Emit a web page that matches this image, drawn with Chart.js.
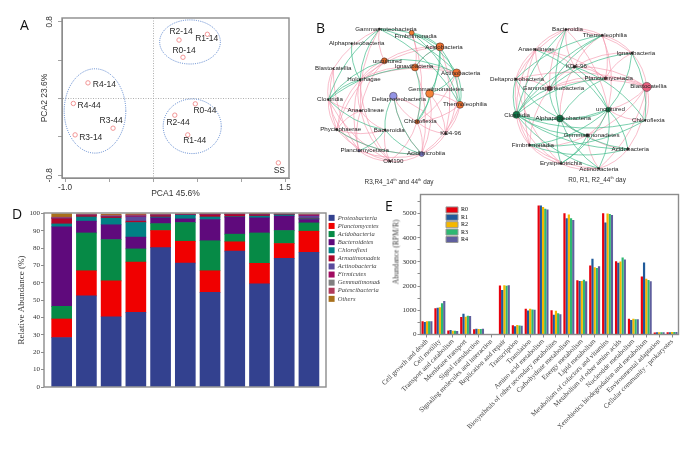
<!DOCTYPE html>
<html>
<head>
<meta charset="utf-8">
<script src="https://cdn.jsdelivr.net/npm/chart.js@4"></script>
<style>
  html, body { margin: 0; padding: 0; background: #fff; }
  #page { position: relative; width: 693px; height: 452px; overflow: hidden; }
  canvas { position: absolute; left: 0; top: 0; filter: blur(0.35px); }
  .note { position: absolute; white-space: nowrap; font-family: "Liberation Sans", sans-serif; color: #222; filter: blur(0.25px); }
  .letter { font-family: "Open Sans", sans-serif; font-size: 14px; line-height: 14px; color: #111; }
  .caption { font-size: 6.4px; line-height: 8px; color: #333; transform: translateX(-50%); }
  .caption sup { font-size: 4px; line-height: 0; }
</style>
</head>
<body>
<div id="page">
  <canvas id="pca" width="693" height="452"></canvas>
  <canvas id="netB" width="693" height="452"></canvas>
  <canvas id="netC" width="693" height="452"></canvas>
  <canvas id="stack" width="380" height="452"></canvas>
  <canvas id="kegg" width="693" height="452"></canvas>
  <div class="note letter" style="left:20px;top:18px">A</div>
  <div class="note letter" style="left:316px;top:21px">B</div>
  <div class="note letter" style="left:500px;top:21px">C</div>
  <div class="note letter" style="left:12px;top:207px">D</div>
  <div class="note letter" style="left:385px;top:199px">E</div>
  <div class="note caption" style="left:399px;top:178px">R3,R4_14<sup>th</sup> and 44<sup>th</sup> day</div>
  <div class="note caption" style="left:597px;top:176px">R0, R1, R2_44<sup>th</sup> day</div>
  <div class="note" style="left:396px;top:252px;font:7.6px 'Liberation Serif',serif;color:#444;transform:translate(-50%,-50%) rotate(-90deg)">Abundance (RPM/R)</div>
</div>
<script>
// panel A
const pcaNames = ['R2-14', 'R1-14', 'R0-14', 'R4-14', 'R4-44', 'R3-44', 'R3-14', 'R0-44', 'R2-44', 'R1-44', 'SS'];
const pcaX = [0.295, 0.617, 0.34, -0.74, -0.906, -0.455, -0.886, 0.48, 0.247, 0.394, 1.424];
const pcaY = [0.61, 0.67, 0.43, 0.163, -0.052, -0.31, -0.38, -0.056, -0.174, -0.38, -0.672];
const pcaLabelX = [0.318, 0.61, 0.352, -0.553, -0.727, -0.477, -0.708, 0.59, 0.284, 0.474, 1.435];
const pcaLabelY = [0.695, 0.62, 0.497, 0.142, -0.07, -0.234, -0.404, -0.125, -0.255, -0.443, -0.752];
const pcaEllipses = [[0.42, 0.59, 0.345, 0.23], [-0.66, -0.13, 0.35, 0.44], [0.445, -0.29, 0.33, 0.285]];
const pcaXTicks = [-1, -0.5, 0, 0.5, 1, 1.5];
const pcaYTicks = [-0.8, -0.4, 0, 0.4, 0.8];

// panel B
const nodeNamesB = ['Gammaproteobacteria', 'Fimbriimonadia', 'Alphaproteobacteria', 'Acidobacteria', 'uncultured', 'Ignavibacteria', 'Actinobacteria', 'Blastocatellia', 'Holophagae', 'Deltaproteobacteria', 'Gemmatimonadetes', 'Thermoleophilia', 'Clostridia', 'Anaerolineae', 'Chloroflexia', 'KD4-96', 'Phycisphaerae', 'Bacteroidia', 'Planctomycetacia', 'OM190', 'Acidimicrobiia'];
const nodeXB = [238, 335, 155, 420, 253, 345, 470, 100, 180, 280, 389, 480, 85, 182, 351, 437, 110, 255, 177, 270, 365];
const nodeYB = [75, 87, 120, 130, 173, 193, 210, 197, 231, 281, 273, 308, 292, 326, 360, 396, 384, 385, 449, 481, 459];
const nodeLabelXB = [258, 347, 170, 432, 262, 342, 482, 100, 192, 297, 408, 495, 90, 197, 361, 452, 122, 268, 194, 280, 378];
const nodeLabelYB = [75, 98, 120, 130, 173, 190, 211, 197, 231, 291, 260, 307, 292, 326, 358, 396, 384, 385, 448, 481, 458];
const nodeSizeB = [1, 2.5, 0.8, 4, 3, 3.5, 4, 0.6, 1, 3.8, 4, 3.5, 0.8, 1, 2.2, 1.2, 1.2, 1, 1.2, 1, 2.5];
const nodeColorB = ['#222', '#f07c30', '#222', '#ee7030', '#d86428', '#ee7030', '#ee7030', '#222', '#222', '#9494e4', '#f58238', '#ee7030', '#222', '#222', '#c05a20', '#222', '#222', '#222', '#6666aa', '#222', '#7a7ac8'];
const greenEdgesB = [[0, 3], [0, 6], [0, 11], [1, 3], [1, 6], [1, 11], [3, 11], [3, 14], [3, 10], [5, 14], [6, 10], [6, 11], [10, 14], [2, 8], [0, 8], [0, 12], [4, 12], [5, 12], [8, 12], [12, 17], [16, 20], [9, 17], [9, 20], [17, 20], [18, 17], [5, 3], [4, 6]];
const pinkEdgesB = [[0, 4], [0, 13], [0, 7], [1, 5], [1, 14], [3, 4], [3, 5], [3, 8], [3, 15], [5, 6], [5, 8], [4, 8], [4, 13], [4, 16], [6, 8], [6, 14], [6, 15], [7, 12], [7, 16], [7, 18], [8, 13], [8, 16], [8, 18], [8, 19], [10, 11], [10, 15], [11, 15], [11, 14], [9, 14], [9, 15], [9, 20], [12, 16], [12, 13], [12, 18], [12, 19], [13, 16], [13, 18], [13, 19], [14, 15], [14, 20], [14, 19], [15, 20], [16, 17], [16, 19], [16, 20], [17, 19], [18, 19], [18, 20], [19, 20], [13, 17], [11, 20], [10, 20], [5, 20]];

// panel C
const nodeNamesC = ['Bacteroidia', 'Thermoleophilia', 'Anaerolineae', 'Ignavibacteria', 'KD4-96', 'Deltaproteobacteria', 'Planctomycetacia', 'Gammaproteobacteria', 'Blastocatellia', 'Clostridia', 'uncultured', 'Alphaproteobacteria', 'Chloroflexia', 'Gemmatimonadetes', 'Fimbriimonadia', 'Acidobacteria', 'Erysipelotrichia', 'Actinobacteria'];
const nodeXC = [230, 340, 137, 430, 256, 78, 350, 180, 475, 80, 358, 212, 470, 295, 120, 418, 215, 330];
const nodeYC = [75, 93, 137, 148, 190, 228, 225, 257, 252, 338, 322, 349, 355, 401, 431, 443, 488, 503];
const nodeLabelXC = [235, 348, 141, 442, 262, 82, 360, 192, 480, 82, 365, 222, 480, 308, 130, 425, 215, 330];
const nodeLabelYC = [75, 93, 137, 148, 190, 228, 224, 256, 251, 338, 322, 348, 355, 400, 431, 443, 488, 504];
const nodeSizeC = [1, 1, 1, 1.2, 1.5, 1, 1.5, 2.5, 4.5, 3.5, 2.5, 3.5, 0.8, 1.5, 1, 1.2, 1, 1];
const nodeColorC = ['#222', '#222', '#222', '#222', '#222', '#222', '#7a2a3a', '#7a3a4a', '#e86080', '#0f7a4a', '#0f7a4a', '#0f7a4a', '#222', '#222', '#222', '#222', '#222', '#222'];
const greenEdgesC = [[0, 9], [0, 11], [1, 7], [1, 9], [1, 5], [2, 10], [3, 7], [3, 12], [3, 10], [4, 9], [4, 10], [4, 12], [5, 9], [5, 11], [6, 9], [6, 11], [7, 9], [7, 11], [9, 11], [9, 10], [9, 13], [9, 17], [9, 15], [10, 11], [10, 14], [10, 15], [11, 13], [11, 17], [11, 15], [12, 14], [12, 9], [13, 16], [14, 15], [16, 11], [10, 17], [10, 16]];
const pinkEdgesC = [[0, 1], [0, 2], [0, 3], [0, 4], [0, 5], [0, 7], [1, 4], [1, 3], [1, 6], [2, 4], [2, 5], [2, 6], [2, 7], [2, 9], [3, 6], [3, 8], [3, 4], [4, 6], [4, 7], [4, 8], [5, 7], [5, 8], [5, 14], [5, 16], [6, 8], [6, 7], [7, 8], [8, 12], [8, 10], [8, 15], [8, 17], [8, 13], [10, 12], [10, 13], [9, 14], [9, 16], [11, 13], [13, 15], [13, 17], [14, 16], [14, 17], [14, 13], [15, 17], [16, 17], [2, 14], [7, 14], [0, 10], [1, 10], [4, 11]];

// panel D
const samples = ['SS', 'R0-14', 'R1-14', 'R2-14', 'R3-14', 'R4-14', 'R0-44', 'R1-44', 'R2-44', 'R3-44', 'R4-44'];
const taxa = ['Proteobacteria', 'Planctomycetes', 'Acidobacteria', 'Bacteroidetes', 'Chloroflexi', 'Armatimonadetes', 'Actinobacteria', 'Firmicutes', 'Gemmatimonadetes', 'Patescibacteria', 'Others'];
const taxaColors = ['#33418f', '#f00000', '#068a46', '#5f0a7c', '#008084', '#b0062a', '#5a4a9c', '#a00a60', '#808080', '#b03a5a', '#a8701a'];
const proteobacteria = [28.5, 52.5, 40.5, 43, 80.3, 71.5, 54.5, 78.3, 59.5, 74.2, 77.7];
const planctomycetes = [10.7, 14.5, 20.7, 29, 9.9, 12.5, 12.5, 5.4, 11.8, 8.5, 12.1];
const acidobacteria = [7.3, 21.8, 23.8, 7.6, 4, 10.8, 17.3, 4.4, 17.5, 7.5, 4.8];
const bacteroidetes = [45.8, 6.8, 8.5, 6.8, 3.3, 2.1, 12.2, 9.8, 8.7, 8.3, 1.9];
const chloroflexi = [1.7, 2.4, 3.8, 8.4, 0.5, 2.1, 1.5, 0.3, 1, 0.7, 0.5];
const armatimonadetes = [3, 0.8, 0.7, 0.8, 0.8, 0.2, 1.2, 1.2, 0.7, 0.2, 0.3];
const actinobacteria = [0.3, 0.2, 0.1, 2.4, 0.2, 0.1, 0.1, 0.1, 0.1, 0.1, 1.2];
const firmicutes = [0.2, 0.2, 0.4, 0.7, 0.2, 0.1, 0.2, 0.1, 0.1, 0.1, 0.6];
const gemmatimonadetes = [0.2, 0.1, 0.3, 0.3, 0.1, 0.1, 0.1, 0.1, 0.1, 0.1, 0.2];
const patescibacteria = [0.2, 0.1, 0.3, 0.3, 0.1, 0.1, 0.1, 0.1, 0.1, 0.1, 0.2];
const others = [2, 0.4, 0.5, 0.5, 0.4, 0.3, 0.3, 0.1, 0.6, 0.1, 0.3];
const taxaValues = [proteobacteria, planctomycetes, acidobacteria, bacteroidetes, chloroflexi, armatimonadetes, actinobacteria, firmicutes, gemmatimonadetes, patescibacteria, others];
const percentTicks = [0, 10, 20, 30, 40, 50, 60, 70, 80, 90, 100];

// panel E
const pathways = ['Cell growth and death', 'Cell motility', 'Transport and catabolism', 'Membrane transport', 'Signal transduction', 'Signaling molecules and interaction', 'Replication and repair', 'Transcription', 'Translation', 'Amino acid metabolism', 'Biosynthesis of other secondary metabolites', 'Carbohydrate metabolism', 'Energy metabolism', 'Lipid metabolism', 'Metabolism of cofactors and vitamins', 'Metabolism of other amino acids', 'Nucleotide metabolism', 'Xenobiotics biodegradation and metabolism', 'Environmental adaptation', 'Cellular community - prokaryotes'];
const r0 = [550, 1080, 170, 720, 220, 5, 2020, 380, 1060, 5330, 1000, 5010, 2240, 2850, 5010, 3030, 650, 2400, 85, 95];
const r1 = [520, 1110, 185, 860, 240, 5, 1840, 340, 990, 5330, 820, 4805, 2210, 3125, 4630, 2960, 600, 2975, 90, 95];
const r2 = [550, 1130, 160, 730, 230, 5, 2040, 390, 1060, 5270, 980, 4960, 2215, 2780, 5000, 3020, 650, 2300, 90, 100];
const r3 = [550, 1290, 150, 770, 225, 5, 2010, 370, 1030, 5200, 880, 4805, 2260, 2750, 4980, 3180, 630, 2250, 95, 100];
const r4 = [550, 1380, 145, 760, 235, 5, 2030, 365, 1020, 5170, 840, 4735, 2200, 2820, 4940, 3100, 625, 2200, 90, 100];
const keggSeries = ['R0', 'R1', 'R2', 'R3', 'R4'];
const keggColors = ['#e8000c', '#1f5a9a', '#f5b800', '#2eb872', '#5f5f9e'];
const keggValues = [r0, r1, r2, r3, r4];
const keggTicks = [0, 500, 1000, 1500, 2000, 2500, 3000, 3500, 4000, 4500, 5000, 5500];

const SANS = '"Liberation Sans", sans-serif';
const SERIF = '"Liberation Serif", serif';
const FRAME = '#8c8c8c';
Chart.defaults.font.family = SANS;
Chart.defaults.animation = false;
Chart.defaults.responsive = false;
Chart.defaults.plugins.legend.display = false;
Chart.defaults.plugins.tooltip.enabled = false;

function setTicks(values) {
  return (scale) => { scale.ticks = values.map((v) => ({ value: v })); };
}

// y width and x height are fixed so every panel lands at a known spot
function fixWidth(w) {
  return (scale) => { scale.width = w; };
}
function fixHeight(h) {
  return (scale) => { scale.height = h; scale.paddingLeft = 0; scale.paddingRight = 0; };
}
function pad(left, top, right, bottom) {
  return { padding: { left: left, top: top, right: right, bottom: bottom } };
}

const framePlugin = {
  id: 'frame',
  afterDatasetsDraw(chart) {
    const a = chart.chartArea;
    const ctx = chart.ctx;
    ctx.save();
    ctx.strokeStyle = FRAME;
    ctx.lineWidth = 1.4;
    ctx.strokeRect(a.left, a.top, a.right - a.left, a.bottom - a.top);
    ctx.restore();
  }
};

// the legend box also clips and wraps by its edges, so all four have to move
const moveLegend = {
  id: 'moveLegend',
  beforeDraw(chart, args, opts) {
    const legend = chart.legend;
    legend.left = opts.x;
    legend.top = opts.y;
    legend.right = opts.x + opts.w;
    legend.bottom = opts.y + opts.h;
  }
};

const ellipsePlugin = {
  id: 'ellipses',
  afterDatasetsDraw(chart, args, opts) {
    const { x, y } = chart.scales;
    const ctx = chart.ctx;
    ctx.save();
    ctx.strokeStyle = '#4a78c8';
    ctx.lineWidth = 0.9;
    ctx.setLineDash([1, 1.2]);
    opts.items.forEach((e) => {
      const cx = x.getPixelForValue(e[0]);
      const cy = y.getPixelForValue(e[1]);
      const rx = Math.abs(x.getPixelForValue(e[0] + e[2]) - cx);
      const ry = Math.abs(y.getPixelForValue(e[1] + e[3]) - cy);
      ctx.beginPath();
      ctx.ellipse(cx, cy, rx, ry, 0, 0, Math.PI * 2);
      ctx.stroke();
    });
    ctx.restore();
  }
};

// names written next to the points, at positions kept beside the data
const namePlugin = {
  id: 'names',
  afterDatasetsDraw(chart, args, opts) {
    const { x, y } = chart.scales;
    const ctx = chart.ctx;
    ctx.save();
    ctx.font = opts.font;
    ctx.fillStyle = opts.color;
    ctx.textAlign = 'center';
    ctx.textBaseline = 'middle';
    opts.names.forEach((name, i) => {
      ctx.fillText(name, x.getPixelForValue(opts.labelX[i]), y.getPixelForValue(opts.labelY[i]));
    });
    ctx.restore();
  }
};

function drawEdges(chart, edges, color, xs, ys) {
  const { x, y } = chart.scales;
  const ctx = chart.ctx;
  const mx = (x.left + x.right) / 2;
  const my = (y.top + y.bottom) / 2;
  ctx.strokeStyle = color;
  edges.forEach((e) => {
    const x1 = x.getPixelForValue(xs[e[0]]);
    const y1 = y.getPixelForValue(ys[e[0]]);
    const x2 = x.getPixelForValue(xs[e[1]]);
    const y2 = y.getPixelForValue(ys[e[1]]);
    const cx = (x1 + x2) / 2;
    const cy = (y1 + y2) / 2;
    // bow each link away from the middle of the ring
    let nx = -(y2 - y1) * 0.16;
    let ny = (x2 - x1) * 0.16;
    if (nx * (cx - mx) + ny * (cy - my) < 0) { nx = -nx; ny = -ny; }
    ctx.beginPath();
    ctx.moveTo(x1, y1);
    ctx.quadraticCurveTo(cx + nx, cy + ny, x2, y2);
    ctx.stroke();
  });
}

const edgePlugin = {
  id: 'edges',
  beforeDatasetsDraw(chart, args, opts) {
    const ctx = chart.ctx;
    ctx.save();
    ctx.lineWidth = 0.85;
    drawEdges(chart, opts.pink, 'rgba(244,150,172,0.75)', opts.xs, opts.ys);
    drawEdges(chart, opts.green, 'rgba(60,185,135,0.8)', opts.xs, opts.ys);
    ctx.restore();
  }
};

// panel A
new Chart(document.getElementById('pca'), {
  type: 'scatter',
  data: {
    datasets: [{
      label: 'PCA',
      data: pcaX.map((v, i) => ({ x: v, y: pcaY[i] })),
      pointRadius: 2.2,
      pointBorderWidth: 0.9,
      pointBackgroundColor: 'rgba(255,255,255,0)',
      pointBorderColor: '#f08a8a'
    }]
  },
  options: {
    layout: pad(39, 18, 404, 250),
    scales: {
      x: {
        type: 'linear', min: -1.035, max: 1.545, bounds: 'data',
        afterBuildTicks: setTicks(pcaXTicks),
        afterFit: fixHeight(24),
        grid: {
          color: (c) => (c.tick && c.tick.value === 0 ? '#999' : 'rgba(0,0,0,0)'),
          tickColor: FRAME, tickLength: 4, lineWidth: 0.8
        },
        border: { color: FRAME, dash: [1, 1.5] },
        ticks: {
          autoSkip: false, maxRotation: 0, padding: 1, color: '#333', font: { size: 8.2 },
          callback: (v) => (v === -1 ? '-1.0' : v === 1.5 ? '1.5' : '')
        },
        title: { display: true, text: 'PCA1 45.6%', color: '#333', font: { size: 8.5 }, padding: { top: 0, bottom: 3 } }
      },
      y: {
        type: 'linear', min: -0.83, max: 0.84, bounds: 'data',
        afterBuildTicks: setTicks(pcaYTicks),
        afterFit: fixWidth(23),
        grid: {
          color: (c) => (c.tick && c.tick.value === 0 ? '#999' : 'rgba(0,0,0,0)'),
          tickColor: FRAME, tickLength: 4, lineWidth: 0.8
        },
        border: { color: FRAME, dash: [1, 1.5] },
        ticks: {
          autoSkip: false, minRotation: 90, maxRotation: 90, crossAlign: 'center', padding: 1, color: '#333', font: { size: 8.2 },
          callback: (v) => (v === 0.8 ? '0.8' : v === -0.8 ? '-0.8' : '')
        },
        title: { display: true, text: 'PCA2 23.6%', color: '#333', font: { size: 8.5 }, padding: { top: 1, bottom: 0 } }
      }
    },
    plugins: {
      ellipses: { items: pcaEllipses },
      names: { names: pcaNames, labelX: pcaLabelX, labelY: pcaLabelY, font: '8.5px ' + SANS, color: '#2a2a2a' }
    }
  },
  plugins: [framePlugin, ellipsePlugin, namePlugin]
});

// panels B and C share the same drawing, the scales read in units of the crop
function network(id, left, names, xs, ys, labelX, labelY, sizes, colors, pink, green) {
  return new Chart(document.getElementById(id), {
    type: 'scatter',
    data: {
      datasets: [{
        label: id,
        data: xs.map((v, i) => ({ x: v, y: ys[i] })),
        pointRadius: sizes,
        pointBackgroundColor: colors,
        pointBorderColor: '#3a2a2a',
        pointBorderWidth: 0.5
      }]
    },
    options: {
      layout: pad(left, 0, 693 - left - 200, 252),
      scales: {
        x: { type: 'linear', min: 0, max: 600, display: false },
        y: { type: 'linear', min: 0, max: 600, reverse: true, display: false }
      },
      plugins: {
        edges: { pink: pink, green: green, xs: xs, ys: ys },
        names: { names: names, labelX: labelX, labelY: labelY, font: '6.2px ' + SANS, color: '#222' }
      }
    },
    plugins: [edgePlugin, namePlugin]
  });
}
network('netB', 300, nodeNamesB, nodeXB, nodeYB, nodeLabelXB, nodeLabelYB, nodeSizeB, nodeColorB, pinkEdgesB, greenEdgesB);
network('netC', 490, nodeNamesC, nodeXC, nodeYC, nodeLabelXC, nodeLabelYC, nodeSizeC, nodeColorC, pinkEdgesC, greenEdgesC);

// panel D
new Chart(document.getElementById('stack'), {
  type: 'bar',
  data: {
    datasets: taxa.map((name, k) => ({
      label: name,
      data: samples.map((s, i) => ({ x: i, y: taxaValues[k][i] })),
      backgroundColor: taxaColors[k],
      barThickness: 20,
      borderWidth: 0
    }))
  },
  options: {
    layout: pad(14, 213, 54, 0),
    scales: {
      x: {
        type: 'linear', stacked: true, offset: false, min: -0.715, max: 10.69, bounds: 'data',
        afterFit: fixHeight(65),
        grid: { display: false, offset: false },
        border: { display: false },
        ticks: { display: false }
      },
      y: {
        stacked: true, min: 0, max: 100.3, bounds: 'data',
        afterBuildTicks: setTicks(percentTicks),
        afterFit: fixWidth(30),
        grid: { drawOnChartArea: false, tickColor: FRAME, tickLength: 3 },
        border: { display: false },
        ticks: { autoSkip: false, padding: 1, color: '#333', font: { family: SERIF, size: 7 } },
        title: { display: true, text: 'Relative Abundance (%)', color: '#333', font: { family: SERIF, size: 9 }, padding: { top: 2, bottom: 0 } }
      }
    },
    plugins: {
      legend: {
        display: true,
        position: 'chartArea',
        align: 'start',
        labels: { boxWidth: 6, boxHeight: 6, padding: 1.6, color: '#444', font: { family: SERIF, size: 6.5, style: 'italic' } }
      },
      moveLegend: { x: 327, y: 213, w: 60, h: 100 }
    }
  },
  plugins: [framePlugin, moveLegend]
});

// panel E
new Chart(document.getElementById('kegg'), {
  type: 'bar',
  data: {
    labels: pathways,
    datasets: keggSeries.map((name, k) => ({
      label: name,
      data: keggValues[k],
      backgroundColor: keggColors[k],
      categoryPercentage: 0.85,
      barPercentage: 1,
      borderWidth: 0
    }))
  },
  options: {
    layout: pad(390, 194.5, 14.5, 0),
    scales: {
      x: {
        afterFit: fixHeight(117.5),
        grid: { drawOnChartArea: false, tickColor: FRAME, tickLength: 3, offset: false },
        border: { display: false },
        ticks: { autoSkip: false, minRotation: 45, maxRotation: 45, padding: 0, color: '#444', font: { family: SERIF, size: 7 } }
      },
      y: {
        min: 0, max: 5785, bounds: 'data',
        afterBuildTicks: setTicks(keggTicks),
        afterFit: fixWidth(30.5),
        grid: { drawOnChartArea: false, tickColor: FRAME, tickLength: 3 },
        border: { display: false },
        ticks: { autoSkip: false, padding: 1, color: '#333', font: { family: SERIF, size: 7 }, callback: (v) => (v % 1000 === 0 ? String(v) : '') }
      }
    },
    plugins: {
      legend: {
        display: true,
        position: 'chartArea',
        align: 'start',
        labels: {
          boxWidth: 12, boxHeight: 6, padding: 1.4, color: '#333', font: { family: SERIF, size: 6 },
          generateLabels: () => keggSeries.map((name, k) => ({
            text: name, fillStyle: keggColors[k], strokeStyle: '#999', lineWidth: 1, datasetIndex: k
          }))
        }
      },
      moveLegend: { x: 444.6, y: 205.5, w: 40, h: 50 }
    }
  },
  plugins: [framePlugin, moveLegend]
});
</script>
</body>
</html>
